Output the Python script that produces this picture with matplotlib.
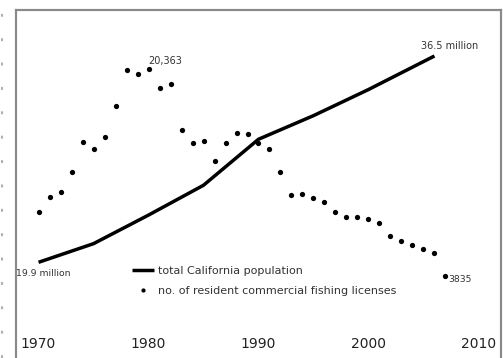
import matplotlib
matplotlib.use("Agg")
import matplotlib.pyplot as plt
from matplotlib.lines import Line2D

# population, millions
pop_years = [1970, 1975, 1980, 1985, 1990, 1995, 2000, 2006]
pop = [19.9, 21.4, 23.7, 26.1, 29.8, 31.7, 33.8, 36.5]

# resident commercial fishing licenses
lic_years = list(range(1970, 2008))
licenses = [8900, 10100, 10500, 12150, 14550, 13950, 14950, 17400, 20280, 19990,
            20363, 18850, 19150, 15500, 14450, 14600, 13000, 14450, 15250, 15150,
            14500, 14000, 12150, 10300, 10400, 10050, 9700, 8950, 8550, 8550,
            8400, 8080, 7010, 6640, 6320, 5950, 5680, 3835]

xticks = [1970, 1980, 1990, 2000, 2010]

W, H = 503, 358
fig = plt.figure(figsize=(W / 100, H / 100), dpi=100)
ax = fig.add_axes([16 / W, 0, 485 / W, 348 / H])
ax2 = ax.twinx()

ax.plot(pop_years, pop, color="black", lw=2.5, solid_capstyle="butt",
        label="total California population")
ax2.plot(lic_years, licenses, "o", color="black", ms=3.8, mew=0,
         label="no. of resident commercial fishing licenses")

ax.set_xlim(1967.95, 2012.05)
ax.set_ylim(12.2, 40.2)
ax2.set_ylim(-2756, 25112)

for a in (ax, ax2):
    a.set_yticks([])
    for s in ("left", "top", "right"):
        a.spines[s].set_color("#8a8a8a")
        a.spines[s].set_linewidth(1.5)
    a.spines["bottom"].set_visible(False)

ax.set_xticks(xticks)
ax.set_xticklabels([str(x) for x in xticks], fontsize=10, color="#222222")
ax.tick_params(axis="x", length=0, pad=-15)

tc = "#333333"
ax.annotate("19.9 million", (pop_years[0], pop[0]), xytext=(5, -11),
            textcoords="offset pixels", ha="center", va="center", fontsize=6.7, color=tc)
ax.annotate("36.5 million", (pop_years[-1], pop[-1]), xytext=(-13, 10),
            textcoords="offset pixels", ha="left", va="center", fontsize=7, color=tc)
ax2.annotate("20,363", (1980, 20363), xytext=(0, 8),
             textcoords="offset pixels", ha="left", va="center", fontsize=7, color=tc)
ax2.annotate("3835", (2007, 3835), xytext=(3, -4),
             textcoords="offset pixels", ha="left", va="center", fontsize=6.7, color=tc)

h1, l1 = ax.get_legend_handles_labels()
h2, l2 = ax2.get_legend_handles_labels()
leg = ax2.legend(h1 + h2, l1 + l2, loc="upper left", frameon=False,
                 bbox_to_anchor=(132 / W, 1 - 265.5 / H), bbox_transform=fig.transFigure,
                 fontsize=8, handlelength=2.0, handletextpad=0.3,
                 labelspacing=0.95, borderpad=0, borderaxespad=0, markerscale=0.8)
for t in leg.get_texts():
    t.set_color(tc)

# faint dotted rule at far left
fig.add_artist(Line2D([1.5 / W, 1.5 / W], [0, 1], transform=fig.transFigure,
                      color="#b0b0b0", lw=1.5, linestyle=(0, (1.4, 10.3))))

fig.savefig("out.png", dpi=100)
